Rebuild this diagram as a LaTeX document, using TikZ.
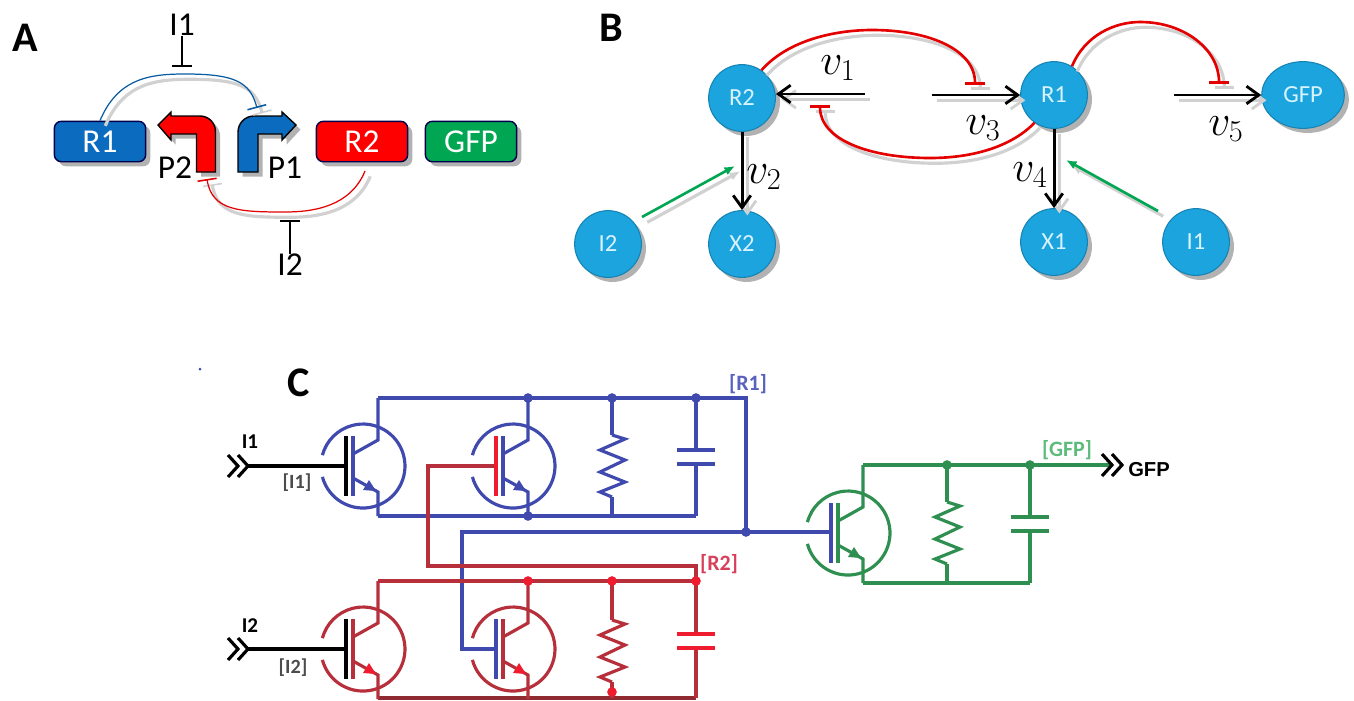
\documentclass[tikz,border=0pt]{standalone}
\usepackage{fontspec}
\setmainfont{Carlito}
\newfontfamily\gfpfont{Liberation Sans}
\usetikzlibrary{arrows.meta,shadows,shapes.geometric}
\definecolor{boxblue}{HTML}{0B6CBF}
\definecolor{boxred}{HTML}{FF0000}
\definecolor{boxgreen}{HTML}{00A651}
\definecolor{cellblue}{HTML}{1CA4DF}
\definecolor{netblue}{HTML}{3F49AE}
\definecolor{netred}{HTML}{B62F3A}
\definecolor{netdark}{HTML}{8E2A30}
\definecolor{hotred}{HTML}{EE1C2E}
\definecolor{netgreen}{HTML}{2F8F50}
\definecolor{tagblue}{HTML}{5A62BE}
\definecolor{tagred}{HTML}{D8405A}
\definecolor{taggreen}{HTML}{5DBB7C}
\tikzset{
    softshadow/.style={drop shadow={shadow xshift=2.6pt,shadow yshift=-2.6pt,fill=black!55,opacity=.55}},
    genebox/.style={draw=black!70!blue,line width=.8pt,rounded corners=4pt,minimum width=52pt,minimum height=23pt,text=white,softshadow,font=\fontsize{19}{21}\selectfont},
    cell/.style={circle,draw=black!20!cellblue,line width=.6pt,fill=cellblue,minimum size=38pt,inner sep=0pt,text=cyan!15,softshadow,font=\fontsize{14}{16}\selectfont},
    lbl/.style={inner sep=0pt,font=\fontsize{19}{21}\selectfont},
    panel/.style={inner sep=0pt,font=\fontsize{24}{26}\selectfont\bfseries},
    rate/.style={inner sep=0pt,font=\fontsize{23}{26}\selectfont},
    tag/.style={inner sep=0pt,font=\fontsize{12.5}{15}\selectfont\bfseries},
    port/.style={inner sep=0pt,font=\fontsize{12}{14}\selectfont\bfseries},
    netdot/.style={circle,fill=#1,inner sep=0pt,minimum size=5.5pt},
    ghost/.style={preaction={draw=black!18,line width=1.8pt,transform canvas={shift={(3pt,-3pt)}}}},
    flux/.style={line width=1.7pt,-{Straight Barb[length=7pt,width=10pt,line width=1.6pt]}},
    blunt/.style={line width=1.5pt,draw=red!90!black,-{Bar[width=11pt,line width=1.8pt]}},
    thin blunt/.style={line width=.7pt,draw=#1,-{Bar[width=11pt,line width=.9pt]}},
    nudge/.style={line width=1.5pt,draw=boxgreen,-{Latex[length=6pt,width=5pt]}},
    wire/.style={line width=1.8pt,draw=#1}
}
\newcommand{\bjt}[5]{
    \begin{scope}[shift={(#1,#2)}]
        \draw[wire=#3](-40.6,10.9)arc[start angle=165,end angle=-165,radius=42];
        \draw[wire=#4](-17,-30)--(-17,30);
        \draw[wire=#3](-10,-30)--(-10,30);
        \draw[wire=#3](-10,-12)--(15,-26)--(15,-68);
        \draw[wire=#3](-10,12)--(15,26)--(15,50);
        \fill[#5](13,25)--(0,24)--(6,14)--cycle;
    \end{scope}
}
\newcommand{\zigzag}[3]{
    \draw[wire=#3,line join=miter](#1,#2)--++(13,4)--++(-25,11)--++(25,10)--++(-25,12)--++(25,10)--++(-25,10)--++(12,5);
}
\newcommand{\plates}[3]{
    \draw[wire=#3](#1-19,#2)--(#1+19,#2);
    \draw[wire=#3](#1-19,#2+14)--(#1+19,#2+14);
}
\newcommand{\chevrons}[3]{
    \draw[wire=#3](#1,#2-11)--(#1+10,#2)--(#1,#2+11);
    \draw[wire=#3](#1+10,#2-11)--(#1+20,#2)--(#1+10,#2+11);
}
\begin{document}
\begin{tikzpicture}[x=0.02cm,y=-0.02cm]
    \useasboundingbox(0,0)rectangle(1354,700);

    \node[panel](labA)at(25,38){A};
    \node[genebox,fill=boxblue](geneR1)at(100,141.5){R1};
    \node[genebox,fill=boxred](geneR2)at(362,141.5){R2};
    \node[genebox,fill=boxgreen](geneGFP)at(471,141.5){GFP};
    \draw[draw=black,line width=.8pt,fill=boxred,softshadow](158,125)--(171,112)--(171,116)--(200,116)arc[start angle=-90,end angle=0,radius=15.5]--(215.5,172)--(196.5,172)--(196.5,134)--(171,134)--(171,140)--cycle;
    \draw[draw=black,line width=.8pt,fill=boxblue,softshadow](296,125)--(282,112)--(282,116)--(254,116)arc[start angle=-90,end angle=-180,radius=16]--(238,172)--(258,172)--(258,134)--(282,134)--(282,140)--cycle;
    \node[lbl](labP2)at(175,168){P2};
    \node[lbl](labP1)at(285,168){P1};
    \node[lbl](labI1)at(182,25){I1};
    \node[lbl](labI2)at(290,265){I2};
    \coordinate(siteP1)at(257,108);
    \coordinate(siteP2)at(207,179);
    \coordinate(siteI1)at(182,67);
    \coordinate(siteI2)at(290,220);
    \coordinate(tailR2)at(365,171);
    \draw[thin blunt=boxblue!85!black,ghost](geneR1.north)..controls(118,78)and(150,74)..(185,74)..controls(235,74)and(250,82)..(siteP1);
    \draw[thin blunt=red!90!black,ghost](tailR2)..controls(350,208)and(310,212)..(285,212)..controls(240,212)and(212,211)..(siteP2);
    \draw[line width=.8pt,-{Bar[width=11pt,line width=.9pt]}](labI1.south)--(siteI1);
    \draw[line width=.8pt,-{Bar[width=11pt,line width=.9pt]}](labI2.north)--(siteI2);

    \node[panel](labB)at(611,28){B};
    \node[cell](nodeR2)at(742,98){R2};
    \node[cell](nodeR1)at(1054,95){R1};
    \node[cell](nodeI2)at(608,244){I2};
    \node[cell](nodeX2)at(742,244){X2};
    \node[cell](nodeX1)at(1054,242){X1};
    \node[cell](nodeI1)at(1196,242){I1};
    \node[cell,ellipse,minimum width=47pt,minimum height=38pt](nodeGFP)at(1303,95){GFP};
    \coordinate(fluxA)at(865,94);
    \coordinate(fluxB)at(932,95);
    \coordinate(fluxC)at(1174,95);
    \coordinate(siteA)at(820,105);
    \coordinate(siteB)at(975,85);
    \coordinate(siteC)at(1219,84);
    \coordinate(siteD)at(735,166);
    \coordinate(siteE)at(1066,160);
    \coordinate(tailD)at(642,217);
    \coordinate(tailE)at(1158,211);
    \draw[flux,ghost](fluxA)--(fluxA-|nodeR2.east);
    \draw[flux,ghost](fluxB)--(nodeR1.west);
    \draw[flux,ghost](fluxC)--(nodeGFP.west);
    \draw[flux,ghost](nodeR2.south)--(nodeX2.north);
    \draw[flux,ghost](nodeR1.south)--(nodeX1.north);
    \draw[blunt,ghost](nodeR2.55)..controls(790,38)and(840,30)..(872,30)..controls(930,30)and(975,50)..(siteB);
    \draw[blunt,ghost](nodeR1.-125)..controls(1010,148)and(970,158)..(930,158)..controls(870,158)and(820,140)..(siteA);
    \draw[blunt,ghost](nodeR1.58)..controls(1085,35)and(1115,22)..(1140,22)..controls(1185,22)and(1219,50)..(siteC);
    \draw[nudge,ghost](tailD)--(siteD);
    \draw[nudge,ghost](tailE)--(siteE);
    \node[rate](rateA)at(838,68){$v_1$};
    \node[rate](rateB)at(764,177){$v_2$};
    \node[rate](rateC)at(983,128){$v_3$};
    \node[rate](rateD)at(1030,175){$v_4$};
    \node[rate](rateE)at(1226,129){$v_5$};

    \node[panel](labC)at(299,383){C};
    \fill[netblue](200,369)circle(1.5);

    \draw[wire=netblue](378,398)--(746,398)--(746,532);
    \draw[wire=netblue](378,516)--(696,516);
    \draw[wire=netblue](612,398)--(612,435);
    \draw[wire=netblue](612,497)--(612,516);
    \draw[wire=netblue](696,398)--(696,450);
    \draw[wire=netblue](696,464)--(696,516);
    \draw[wire=netblue](831,532)--(462,532)--(462,649)--(496,649);
    \draw[wire=netred](496,466)--(428,466)--(428,566)--(696,566)--(696,581);
    \draw[wire=netred](378,581)--(696,581);
    \draw[wire=netdark](378,698)--(696,698);
    \draw[wire=netred](612,581)--(612,620);
    \draw[wire=netred](612,682)--(612,698);
    \draw[wire=netred](696,581)--(696,634);
    \draw[wire=netred](696,648)--(696,698);
    \draw[wire=netgreen](863,465)--(1112,465);
    \draw[wire=netgreen](863,583)--(1030,583);
    \draw[wire=netgreen](947,465)--(947,502);
    \draw[wire=netgreen](947,564)--(947,583);
    \draw[wire=netgreen](1030,465)--(1030,517);
    \draw[wire=netgreen](1030,531)--(1030,583);
    \draw[wire=black](248,466)--(346,466);
    \draw[wire=black](248,649)--(346,649);

    \bjt{363}{466}{netblue}{black}{netblue}
    \bjt{513}{466}{netblue}{hotred}{netblue}
    \bjt{363}{649}{netred}{black}{hotred}
    \bjt{513}{649}{netred}{netblue}{hotred}
    \bjt{848}{533}{netgreen}{netblue}{netgreen}

    \zigzag{612}{435}{netblue}
    \zigzag{612}{620}{netred}
    \zigzag{947}{502}{netgreen}
    \plates{696}{450}{netblue}
    \plates{696}{634}{hotred}
    \plates{1030}{517}{netgreen}
    \chevrons{228}{466}{black}
    \chevrons{228}{649}{black}
    \chevrons{1102}{465}{black}

    \foreach \x/\y/\col/\nm in {528/398/netblue/a,612/398/netblue/b,696/398/netblue/c,528/516/netblue/d,746/532/netblue/e,528/581/hotred/f,612/581/hotred/g,696/581/hotred/h,612/692/hotred/i,947/465/netgreen/j,1030/465/netgreen/k}
        \node[netdot=\col](dot\nm)at(\x,\y){};

    \node[port](portI1)at(250,442){I1};
    \node[port](portI2)at(250,626){I2};
    \node[tag,text=black!70,font=\fontsize{11.5}{14}\selectfont\bfseries](tagI1)at(297,483){[I1]};
    \node[tag,text=black!70,font=\fontsize{11.5}{14}\selectfont\bfseries](tagI2)at(293,668){[I2]};
    \node[tag,text=tagblue](tagR1)at(748,384){[R1]};
    \node[tag,text=tagred](tagR2)at(719,564){[R2]};
    \node[tag,text=taggreen](tagGFP)at(1067,450){[GFP]};
    \node[inner sep=0pt,font=\gfpfont\fontsize{11.5}{13}\selectfont\bfseries](portGFP)at(1149,470){GFP};
\end{tikzpicture}
\end{document}
